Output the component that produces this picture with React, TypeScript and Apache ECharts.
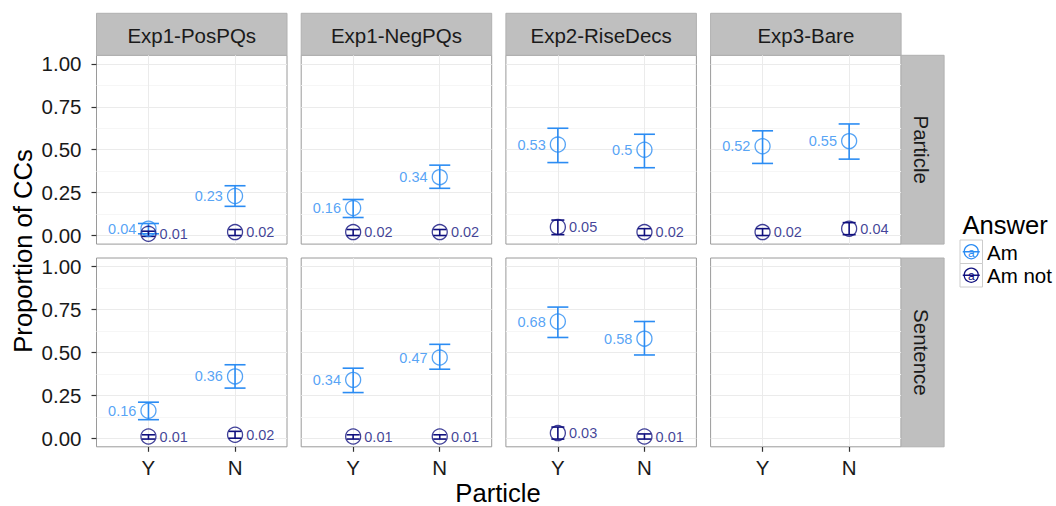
import React, { useEffect, useRef } from 'react';
import * as echarts from 'echarts';

// ---------- data ----------
const experiments = ['Exp1-PosPQs', 'Exp1-NegPQs', 'Exp2-RiseDecs', 'Exp3-Bare'];
const rowLabels = ['Particle', 'Sentence'];
const particleCats = ['Y', 'N'];
const yTicks = [0, 0.25, 0.5, 0.75, 1];
const yMinorTicks = [0.125, 0.375, 0.625, 0.875];
const answers = ['Am', 'Am not'];

// row "Particle": per experiment [Y, N]
const amParticle = [[0.04, 0.23], [0.16, 0.34], [0.53, 0.5], [0.52, 0.55]];
const amParticleLo = [[0.01, 0.17], [0.105, 0.275], [0.425, 0.395], [0.42, 0.445]];
const amParticleHi = [[0.07, 0.29], [0.21, 0.41], [0.625, 0.59], [0.61, 0.65]];
const amNotParticle = [[0.01, 0.02], [0.02, 0.02], [0.05, 0.02], [0.02, 0.04]];
const amNotParticleLo = [[-0.005, 0.0], [0.0, 0.0], [0.005, 0.0], [0.0, 0.005]];
const amNotParticleHi = [[0.025, 0.035], [0.035, 0.035], [0.09, 0.04], [0.04, 0.075]];

// row "Sentence": per experiment [Y, N] (Exp3-Bare has no data)
const amSentence = [[0.16, 0.36], [0.34, 0.47], [0.68, 0.58], []];
const amSentenceLo = [[0.108, 0.292], [0.266, 0.402], [0.587, 0.485], []];
const amSentenceHi = [[0.21, 0.428], [0.408, 0.547], [0.764, 0.68], []];
const amNotSentence = [[0.01, 0.02], [0.01, 0.01], [0.03, 0.01], []];
const amNotSentenceLo = [[-0.005, 0.0], [-0.005, -0.005], [-0.005, -0.005], []];
const amNotSentenceHi = [[0.02, 0.04], [0.02, 0.02], [0.065, 0.025], []];

const amVals = [amParticle, amSentence];
const amLo = [amParticleLo, amSentenceLo];
const amHi = [amParticleHi, amSentenceHi];
const amNotVals = [amNotParticle, amNotSentence];
const amNotLo = [amNotParticleLo, amNotSentenceLo];
const amNotHi = [amNotParticleHi, amNotSentenceHi];

// ---------- styling ----------
const FONT = 'Liberation Sans, Arial, Helvetica, sans-serif';
const COL_AM = '#2b8cf3';
const COL_AMNOT = '#10107e';
const TEXT = '#1a1a1a';
const MAJOR = '#ebebeb';
const MINOR = '#f6f6f6';
const BORDER = '#9a9a9a';
const STRIP = '#bfbfbf';

const PANEL_LEFT0 = 96.5;
const PANEL_STEP = 204.7;
const PANEL_W = 190.5;
const ROW_TOPS = [55.3, 258.0];
const PANEL_H = 188.8;
const STRIP_TOP = 13.3;
const STRIP_H = 42;
const RSTRIP_W = 43;

function errRender(color: string, capHalf: number) {
  return (params: any, api: any) => {
    const x = api.value(0);
    const lo = api.value(1);
    const hi = api.value(2);
    const pHi = api.coord([x, hi]);
    const pLo = api.coord([x, lo]);
    const style = { stroke: color, lineWidth: 1.6, fill: 'none' };
    return {
      type: 'group',
      children: [
        { type: 'line', shape: { x1: pHi[0], y1: pHi[1], x2: pLo[0], y2: pLo[1] }, style },
        { type: 'line', shape: { x1: pHi[0] - capHalf, y1: pHi[1], x2: pHi[0] + capHalf, y2: pHi[1] }, style },
        { type: 'line', shape: { x1: pLo[0] - capHalf, y1: pLo[1], x2: pLo[0] + capHalf, y2: pLo[1] }, style },
      ],
    };
  };
}

function buildOption() {
  const grid: any[] = [];
  const xAxis: any[] = [];
  const yAxis: any[] = [];
  const series: any[] = [];
  const graphic: any[] = [];

  for (let r = 0; r < 2; r++) {
    for (let c = 0; c < 4; c++) {
      const g = r * 4 + c;
      const left = PANEL_LEFT0 + c * PANEL_STEP;
      const top = ROW_TOPS[r];
      grid.push({
        left, top, width: PANEL_W, height: PANEL_H,
        show: true, borderColor: BORDER, borderWidth: 1, backgroundColor: '#fff',
      });
      xAxis.push({
        gridIndex: g, type: 'value', min: 0.4, max: 2.6, position: 'bottom',
        axisLine: { show: false, onZero: false },
        axisTick: { show: r === 1, customValues: [1, 2], length: 5, lineStyle: { color: '#333', width: 1.2 } },
        axisLabel: {
          show: r === 1, customValues: [1, 2],
          formatter: (v: number) => particleCats[Math.round(v) - 1] ?? '',
          fontSize: 20.5, color: TEXT, margin: 10, fontFamily: FONT,
        },
        splitLine: { show: true, lineStyle: { color: MAJOR, width: 1 } },
      });
      yAxis.push({
        gridIndex: g, type: 'value', min: -0.05, max: 1.05, position: 'left',
        axisLine: { show: false, onZero: false },
        axisTick: { show: c === 0, customValues: yTicks, length: 5, lineStyle: { color: '#333', width: 1.2 } },
        axisLabel: {
          show: c === 0, customValues: yTicks,
          formatter: (v: number) => v.toFixed(2),
          fontSize: 20.5, color: TEXT, margin: 15, fontFamily: FONT,
        },
        splitLine: { show: true, lineStyle: { color: MAJOR, width: 1 } },
      });
      yAxis.push({
        gridIndex: g, type: 'value', min: -0.05, max: 1.05, position: 'left',
        axisLine: { show: false, onZero: false },
        axisTick: { show: false, customValues: yMinorTicks },
        axisLabel: { show: false, customValues: yMinorTicks },
        splitLine: { show: true, lineStyle: { color: MINOR, width: 1 } },
      });

      const av = amVals[r][c];
      const nv = amNotVals[r][c];
      if (av.length) {
        const amErr = av.map((_, k) => [k + 1, amLo[r][c][k], amHi[r][c][k]]);
        const nErr = nv.map((_, k) => [k + 1, amNotLo[r][c][k], amNotHi[r][c][k]]);
        series.push({
          type: 'custom', name: answers[0], xAxisIndex: g, yAxisIndex: 2 * g,
          renderItem: errRender(COL_AM, 10.5), data: amErr, encode: { x: 0, y: [1, 2] }, clip: false,
        });
        series.push({
          type: 'custom', name: answers[1], xAxisIndex: g, yAxisIndex: 2 * g,
          renderItem: errRender(COL_AMNOT, 6.5), data: nErr, encode: { x: 0, y: [1, 2] }, clip: false,
        });
        series.push({
          type: 'scatter', name: answers[0], xAxisIndex: g, yAxisIndex: 2 * g,
          data: av.map((v, k) => [k + 1, v]),
          symbol: 'circle', symbolSize: 15,
          itemStyle: { color: 'rgba(0,0,0,0)', borderColor: COL_AM, borderWidth: 1.3 },
          label: {
            show: true, position: 'left', distance: 4,
            formatter: (p: any) => String(p.value[1]),
            color: COL_AM, fontSize: 14.5, fontFamily: FONT,
          },
        });
        series.push({
          type: 'scatter', name: answers[1], xAxisIndex: g, yAxisIndex: 2 * g,
          data: nv.map((v, k) => [k + 1, v]),
          symbol: 'circle', symbolSize: 15,
          itemStyle: { color: 'rgba(0,0,0,0)', borderColor: COL_AMNOT, borderWidth: 1.3 },
          label: {
            show: true, position: 'right', distance: 3,
            formatter: (p: any) => String(p.value[1]),
            color: COL_AMNOT, fontSize: 14.5, fontFamily: FONT,
          },
        });
      }
    }
  }

  // top strips
  experiments.forEach((name, c) => {
    const left = PANEL_LEFT0 + c * PANEL_STEP;
    graphic.push({
      type: 'rect', shape: { x: left, y: STRIP_TOP, width: PANEL_W, height: STRIP_H },
      style: { fill: STRIP, stroke: '#b0b0b0', lineWidth: 1 },
    });
    graphic.push({
      type: 'text', x: left + PANEL_W / 2, y: STRIP_TOP + STRIP_H / 2 + 1,
      style: { text: name, fontSize: 20.5, fontFamily: FONT, fill: TEXT, align: 'center', verticalAlign: 'middle' },
    });
  });
  // right strips
  rowLabels.forEach((name, r) => {
    const x0 = PANEL_LEFT0 + 3 * PANEL_STEP + PANEL_W;
    graphic.push({
      type: 'rect', shape: { x: x0, y: ROW_TOPS[r], width: RSTRIP_W, height: PANEL_H },
      style: { fill: STRIP, stroke: '#b0b0b0', lineWidth: 1 },
    });
    graphic.push({
      type: 'text', x: x0 + RSTRIP_W / 2 - 1, y: ROW_TOPS[r] + PANEL_H / 2, rotation: -Math.PI / 2,
      style: { text: name, fontSize: 20.5, fontFamily: FONT, fill: TEXT, align: 'center', verticalAlign: 'middle' },
    });
  });
  // axis titles
  graphic.push({
    type: 'text', x: 498, y: 493,
    style: { text: 'Particle', fontSize: 25.6, lineHeight: 24, fontFamily: FONT, fill: '#000', align: 'center', verticalAlign: 'middle' },
  });
  graphic.push({
    type: 'text', x: 23, y: 251, rotation: Math.PI / 2,
    style: { text: 'Proportion of CCs', fontSize: 25.6, fontFamily: FONT, fill: '#000', align: 'center', verticalAlign: 'middle' },
  });
  // legend
  graphic.push({
    type: 'text', x: 962.5, y: 225,
    style: { text: 'Answer', fontSize: 25.6, fontFamily: FONT, fill: '#000', align: 'left', verticalAlign: 'middle' },
  });
  answers.forEach((name, i) => {
    const col = i === 0 ? COL_AM : COL_AMNOT;
    const y0 = 240 + i * 23.5;
    const cx = 960 + 11.25;
    const cy = y0 + 11.75;
    graphic.push({
      type: 'rect', shape: { x: 960, y: y0, width: 22.5, height: 23.5 },
      style: { fill: '#fff', stroke: '#cccccc', lineWidth: 1 },
    });
    graphic.push({
      type: 'text', x: cx, y: cy + 1,
      style: { text: 'a', fontSize: 12, fontFamily: FONT, fill: col, align: 'center', verticalAlign: 'middle' },
    });
    graphic.push({
      type: 'line', shape: { x1: cx - 8.5, y1: cy, x2: cx + 8.5, y2: cy },
      style: { stroke: col, lineWidth: 1.5 },
    });
    graphic.push({
      type: 'circle', shape: { cx, cy, r: 7 },
      style: { fill: 'none', stroke: col, lineWidth: 1.3 },
    });
    graphic.push({
      type: 'text', x: 987, y: cy + 0.5,
      style: { text: name, fontSize: 20.5, fontFamily: FONT, fill: '#000', align: 'left', verticalAlign: 'middle' },
    });
  });

  return {
    animation: false,
    backgroundColor: '#fff',
    grid, xAxis, yAxis, series, graphic,
  };
}

export default function App() {
  const ref = useRef<HTMLDivElement>(null);
  useEffect(() => {
    const chart = echarts.init(ref.current!, null, { renderer: 'svg' });
    chart.setOption(buildOption() as any);
    return () => chart.dispose();
  }, []);
  return (
    <div
      ref={ref}
      style={{ position: 'fixed', left: 0, top: 0, width: 1056, height: 506, background: '#fff' }}
    />
  );
}
